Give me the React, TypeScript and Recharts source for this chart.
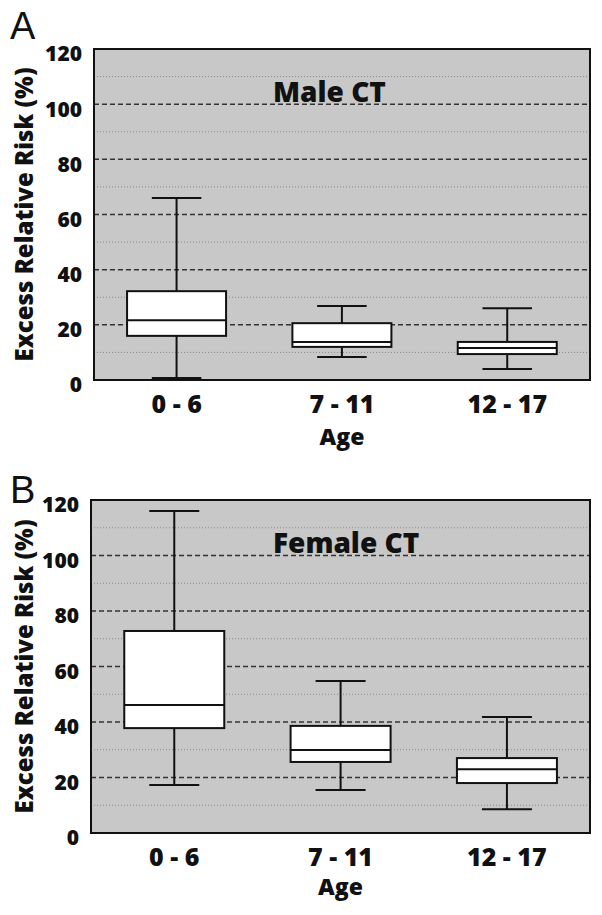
import { Bar, CartesianGrid, ComposedChart, Label, ReferenceArea, XAxis, YAxis } from 'recharts';

const ageGroups = ['0 - 6', '7 - 11', '12 - 17'];
const yTicks = [0, 20, 40, 60, 80, 100, 120];
const minorTicks = [10, 30, 50, 70, 90, 110];

// male CT: whisker ends, quartiles, median
const maleMin = [0.7, 8.3, 4];
const maleQ1 = [16, 12, 9.4];
const maleMedian = [21.7, 13.8, 11.6];
const maleQ3 = [32.2, 20.6, 13.8];
const maleMax = [66, 26.8, 26];

// female CT
const femaleMin = [17.3, 15.5, 8.6];
const femaleQ1 = [37.8, 25.6, 18];
const femaleMedian = [46.1, 29.9, 23];
const femaleQ3 = [72.8, 38.6, 27];
const femaleMax = [116, 54.8, 41.8];

const FONT = '"Open Sans", sans-serif';
const BOLD = 800;

function buildRows(mins: number[], q1s: number[], meds: number[], q3s: number[], maxs: number[]) {
  return ageGroups.map((age, i) => ({
    age,
    range: [mins[i], maxs[i]],
    q1: q1s[i],
    median: meds[i],
    q3: q3s[i],
  }));
}

function BoxShape(props: any) {
  const { x, y, width, height, payload } = props;
  const [lo, hi] = payload.range;
  // map a value into the pixel span the bar got from the y scale
  const toY = (v: number) => y + (height * (hi - v)) / (hi - lo);
  const cx = x + width / 2;
  const cap = width / 4;
  const top = toY(hi);
  const bottom = toY(lo);
  const q3 = toY(payload.q3);
  const q1 = toY(payload.q1);
  const med = toY(payload.median);
  return (
    <g stroke="#111" strokeWidth={2}>
      <line x1={cx} x2={cx} y1={top} y2={q3} />
      <line x1={cx} x2={cx} y1={q1} y2={bottom} />
      <line x1={cx - cap} x2={cx + cap} y1={top} y2={top} />
      <line x1={cx - cap} x2={cx + cap} y1={bottom} y2={bottom} />
      <rect x={x} y={q3} width={width} height={q1 - q3} fill="#fff" />
      <line x1={x} x2={x + width} y1={med} y2={med} />
    </g>
  );
}

const YTick = (p: any) => (
  <text x={p.x - 12} y={p.y + 5} dy="0.355em" textAnchor="end" fill="#111"
    style={{ fontFamily: FONT, fontWeight: BOLD, fontSize: 21 }}>
    {p.payload.value}
  </text>
);

const XTick = (p: any) => (
  <text x={p.x} y={p.y + 33} textAnchor="middle" fill="#111"
    style={{ fontFamily: FONT, fontWeight: BOLD, fontSize: 25 }}>
    {p.payload.value}
  </text>
);

function Panel({ rows, top, height, marginTop, marginBottom, yWidth, xHeight }: any) {
  return (
    <div style={{ position: 'absolute', left: 0, top }}>
      <ComposedChart width={594} height={height} data={rows} barCategoryGap="20%"
        margin={{ top: marginTop, right: 12, bottom: marginBottom, left: 0 }}>
        <CartesianGrid vertical={false} fill="#c8c8c8" fillOpacity={1} stroke="#8a8a8a"
          strokeDasharray="1 2" horizontalValues={minorTicks} />
        <CartesianGrid vertical={false} stroke="#333" strokeDasharray="5 3" strokeWidth={1.5} />
        <XAxis dataKey="age" type="category" interval={0} tickLine={false} axisLine={false}
          tickSize={0} tickMargin={0} height={xHeight} tick={<XTick />}>
          <Label value="Age" position="insideBottom" offset={0} fill="#111"
            style={{ fontFamily: FONT, fontWeight: BOLD, fontSize: 23 }} />
        </XAxis>
        <YAxis type="number" domain={[0, 120]} ticks={yTicks} interval={0} tickLine={false}
          axisLine={false} tickSize={0} tickMargin={0} width={yWidth} tick={<YTick />}>
          <Label value="Excess Relative Risk (%)" angle={-90} position="insideLeft" offset={16}
            fill="#111" style={{ fontFamily: FONT, fontWeight: BOLD, fontSize: 24, textAnchor: 'middle' }} />
        </YAxis>
        <Bar dataKey="range" shape={<BoxShape />} isAnimationActive={false} />
        <ReferenceArea y1={0} y2={120} fill="none" stroke="#111" strokeWidth={2} ifOverflow="visible" />
      </ComposedChart>
    </div>
  );
}

export default function App() {
  const male = buildRows(maleMin, maleQ1, maleMedian, maleQ3, maleMax);
  const female = buildRows(femaleMin, femaleQ1, femaleMedian, femaleQ3, femaleMax);
  return (
    <div style={{ position: 'relative', width: 594, height: 899, background: '#fff' }}>
      <Panel rows={male} top={0} height={450} marginTop={41} marginBottom={13} yWidth={86} xHeight={65} />
      <Panel rows={female} top={450} height={449} marginTop={42} marginBottom={12} yWidth={83} xHeight={62} />
      {/* panel letters and titles, in page coordinates */}
      <svg width={602} height={915} style={{ position: 'absolute', left: -8, top: -8, pointerEvents: 'none' }}>
        <text x={10} y={39} fill="#111" style={{ fontFamily: '"Liberation Sans", Arial, sans-serif', fontSize: 38 }}>A</text>
        <text x={10} y={503} fill="#111" style={{ fontFamily: '"Liberation Sans", Arial, sans-serif', fontSize: 38 }}>B</text>
        <text x={273} y={102} fill="#111" style={{ fontFamily: FONT, fontWeight: BOLD, fontSize: 28 }}>Male CT</text>
        <text x={273} y={553} fill="#111" style={{ fontFamily: FONT, fontWeight: BOLD, fontSize: 28 }}>Female CT</text>
      </svg>
    </div>
  );
}
